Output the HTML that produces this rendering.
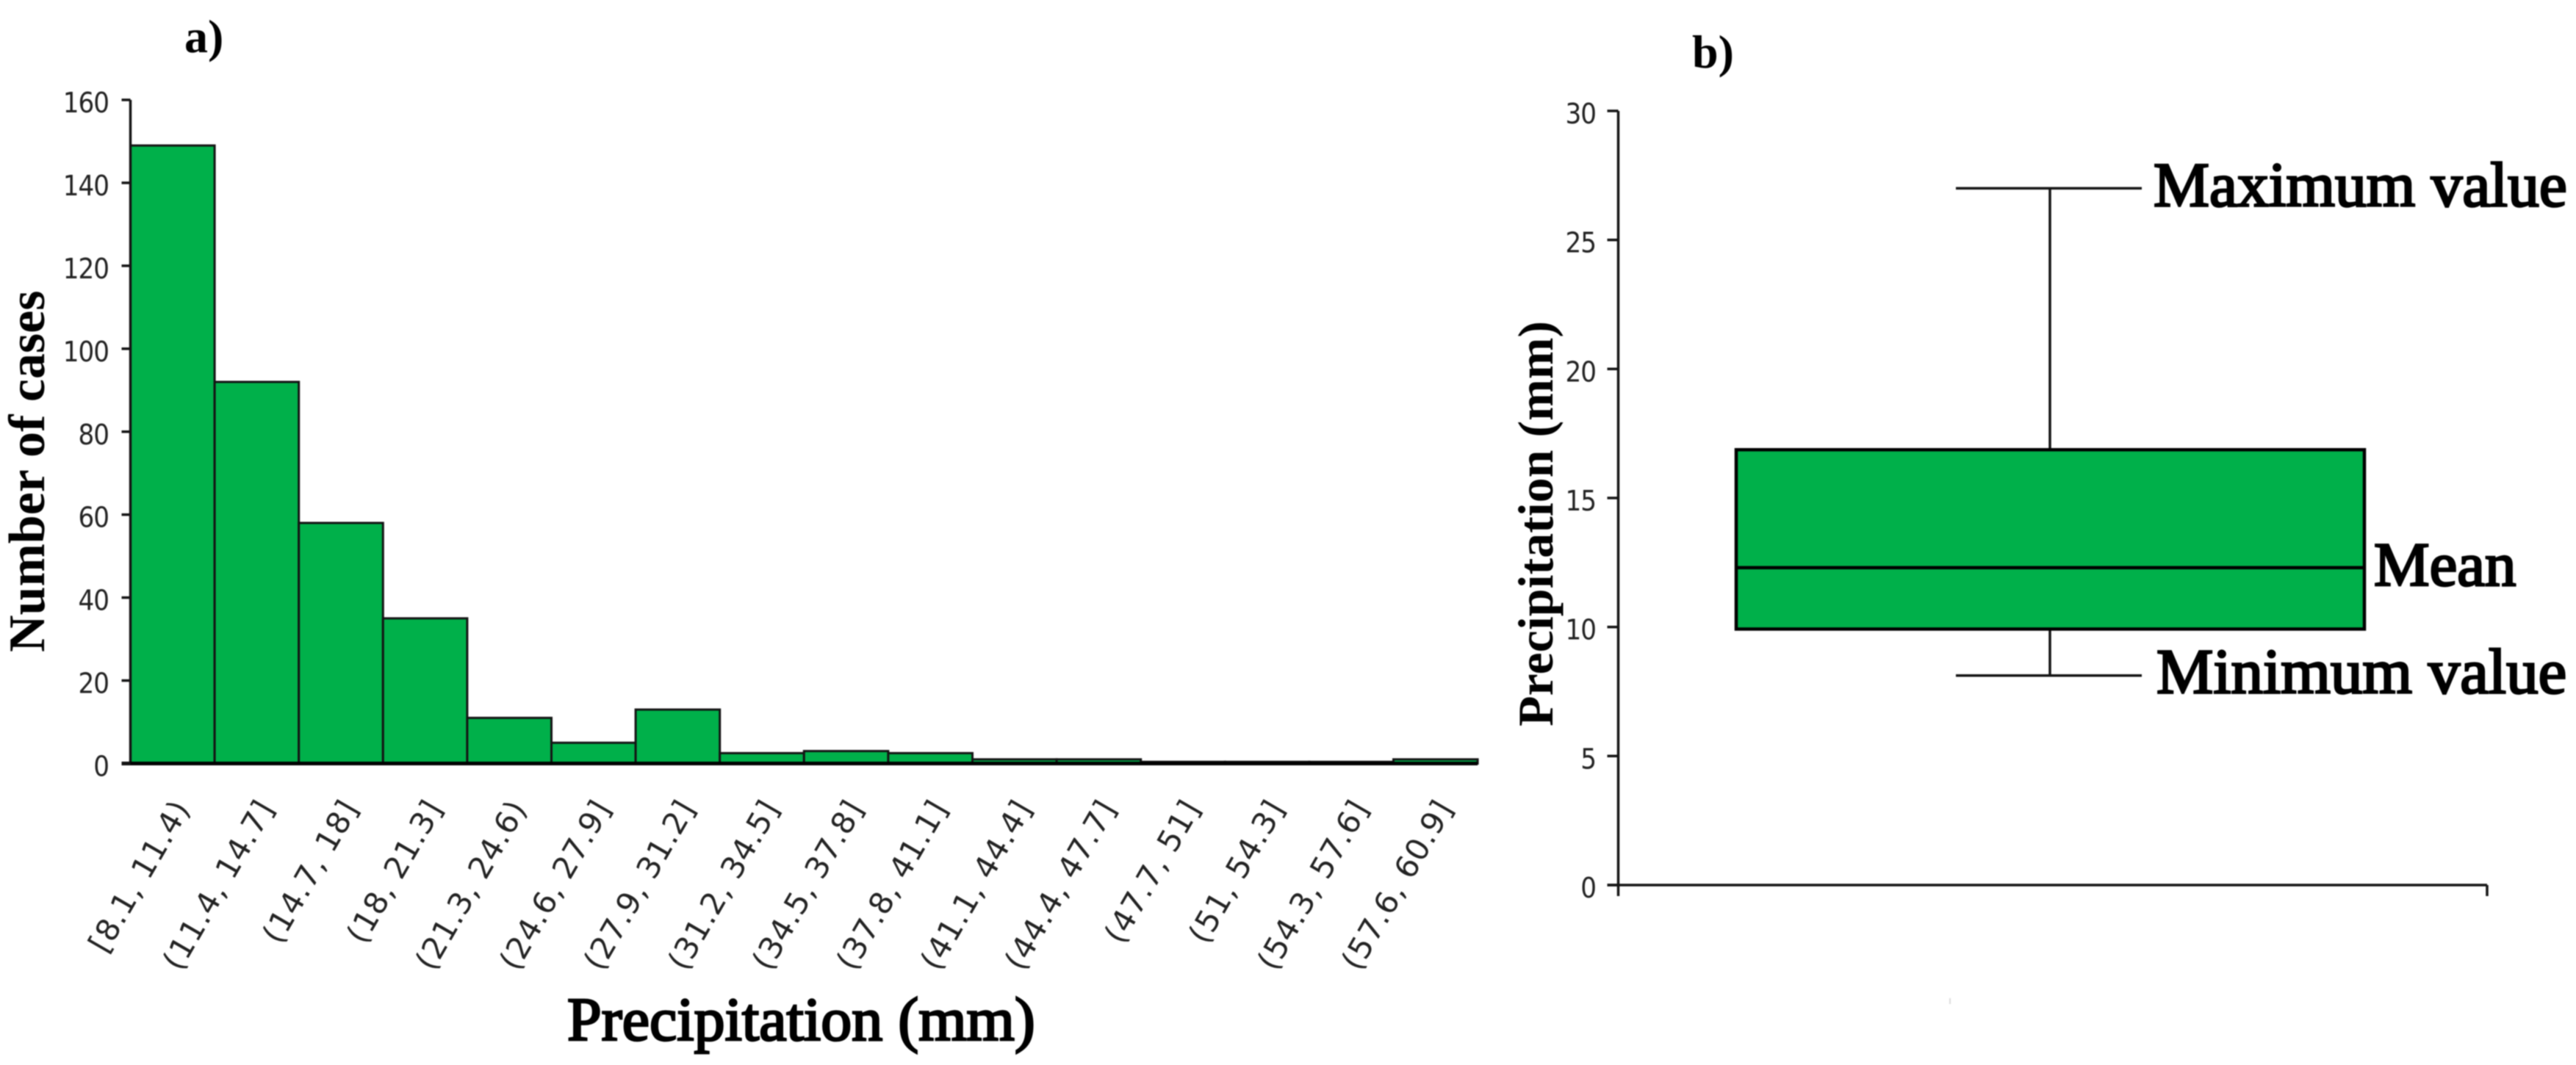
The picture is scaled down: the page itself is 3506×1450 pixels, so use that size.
<!DOCTYPE html>
<html lang="en">
<head>
<meta charset="utf-8">
<title>Precipitation histogram and box plot</title>
<style>
  html, body { margin: 0; padding: 0; background: #fff; }
  body { width: 3506px; height: 1450px; overflow: hidden; }
  svg { display: block; filter: blur(0.7px); }
  .serif { font-family: "Liberation Serif", serif; font-weight: bold; fill: #000; }
  .medium { font-family: "Liberation Serif", serif; font-weight: normal; fill: #000; stroke: #000; stroke-width: 2.8px; }
  .tick { font-family: "DejaVu Sans Condensed", "DejaVu Sans", sans-serif; font-size: 38px; letter-spacing: -1px; fill: #222; }
  .cat { font-family: "DejaVu Sans", sans-serif; font-size: 42px; letter-spacing: 1px; fill: #222; }
</style>
</head>
<body>
<svg id="chart" xmlns="http://www.w3.org/2000/svg" width="3506" height="1450" viewBox="0 0 3506 1450">
  <rect x="0" y="0" width="3506" height="1450" fill="#fff"/>
  <g id="hist"></g>
  <g id="box"></g>

  <text class="serif" x="251" y="71" font-size="64">a)</text>
  <text class="serif" x="2303" y="92" font-size="64">b)</text>
  <text class="serif" font-size="70" transform="translate(60 888) rotate(-90)">Number of cases</text>
  <text class="medium" x="772" y="1416" font-size="84">Precipitation (mm)</text>
  <text class="serif" font-size="68" transform="translate(2113 989) rotate(-90)">Precipitation (mm)</text>
  <rect x="2653" y="1359" width="2" height="8" fill="#ddd"/>
</svg>

<script>
// Histogram data
const histCategories = ["[8.1, 11.4)", "(11.4, 14.7]", "(14.7, 18]", "(18, 21.3]", "(21.3, 24.6)", "(24.6, 27.9]", "(27.9, 31.2]", "(31.2, 34.5]", "(34.5, 37.8]", "(37.8, 41.1]", "(41.1, 44.4]", "(44.4, 47.7]", "(47.7, 51]", "(51, 54.3]", "(54.3, 57.6]", "(57.6, 60.9]"];
const histCounts = [149, 92, 58, 35, 11, 5, 13, 2.5, 3, 2.5, 1, 1, 0.4, 0.4, 0.4, 1];
const histTicks = [0, 20, 40, 60, 80, 100, 120, 140, 160];

// Box plot data
const boxMin = [8.12];
const boxQ1 = [9.92];
const boxMean = [12.3];
const boxQ3 = [16.87];
const boxMax = [27];
const boxTicks = [0, 5, 10, 15, 20, 25, 30];
const boxAnnotations = ["Maximum value", "Mean", "Minimum value"];

const NS = "http://www.w3.org/2000/svg";
const GREEN = "#00B04A";
const INK = "#141414";

function make(parent, tag, attrs, text) {
  const el = document.createElementNS(NS, tag);
  for (const k in attrs) el.setAttribute(k, attrs[k]);
  if (text !== undefined) el.textContent = text;
  parent.appendChild(el);
  return el;
}

// Histogram axes
const histLeft = 177.5, histBinW = 114.6, histBase = 1039.5, histTop = 136, histMax = 160;
function histX(i) { return histLeft + i * histBinW; }
function histY(v) { return histBase - (v / histMax) * (histBase - histTop); }

const hist = document.getElementById("hist");

histCounts.forEach(function (v, i) {
  const bar = make(hist, "rect", {
    x: histX(i), y: histY(v), width: histBinW, height: histBase - histY(v),
    fill: GREEN, stroke: INK, "stroke-width": 3
  });
  
  
});

const histYAxis = make(hist, "line", { x1: histLeft, x2: histLeft, y1: histTop, y2: histBase, stroke: INK, "stroke-width": 3.5 });



const histXAxis = make(hist, "line", { x1: histLeft - 12, x2: histX(histCounts.length), y1: histBase, y2: histBase, stroke: "#000", "stroke-width": 5 });



histTicks.forEach(function (t) {
  const mark = make(hist, "line", { x1: histLeft - 12, x2: histLeft, y1: histY(t), y2: histY(t), stroke: INK, "stroke-width": 3.5 });
  
  
  const label = make(hist, "text", { class: "tick", x: 148, y: histY(t) + 17, "text-anchor": "end" }, String(t));
  
  
});

histCategories.forEach(function (c, i) {
  const cx = histX(i + 0.5) + 25;
  const label = make(hist, "text", { class: "cat", "text-anchor": "end", transform: "translate(" + cx + " 1100) rotate(-60)" }, c);
  
  
});

// Box plot axes
const boxAxisX = 2202.5, boxBase = 1205, boxTop = 151, boxRange = 30, boxAxisEnd = 3385;
const boxLeft = 2363, boxRight = 3218, whiskerX = 2790, capLeft = 2662, capRight = 2915;
function boxY(v) { return boxBase - (v / boxRange) * (boxBase - boxTop); }

const box = document.getElementById("box");

const boxYAxis = make(box, "line", { x1: boxAxisX, x2: boxAxisX, y1: boxTop, y2: boxBase + 15, stroke: INK, "stroke-width": 3.5 });



const boxXAxis = make(box, "line", { x1: boxAxisX - 15, x2: boxAxisEnd, y1: boxBase, y2: boxBase, stroke: INK, "stroke-width": 3.5 });



const boxXEndTick = make(box, "line", { x1: boxAxisEnd, x2: boxAxisEnd, y1: boxBase, y2: boxBase + 15, stroke: INK, "stroke-width": 3.5 });



boxTicks.forEach(function (t) {
  const mark = make(box, "line", { x1: boxAxisX - 15, x2: boxAxisX, y1: boxY(t), y2: boxY(t), stroke: INK, "stroke-width": 3.5 });
  
  
  const label = make(box, "text", { class: "tick", x: 2172, y: boxY(t) + 17, "text-anchor": "end" }, String(t));
  
  
});

const whisker = make(box, "line", { x1: whiskerX, x2: whiskerX, y1: boxY(boxMax[0]), y2: boxY(boxMin[0]), stroke: INK, "stroke-width": 3.5 });



const capTop = make(box, "line", { x1: capLeft, x2: capRight, y1: boxY(boxMax[0]), y2: boxY(boxMax[0]), stroke: INK, "stroke-width": 3.5 });



const capBottom = make(box, "line", { x1: capLeft, x2: capRight, y1: boxY(boxMin[0]), y2: boxY(boxMin[0]), stroke: INK, "stroke-width": 3.5 });



const iqr = make(box, "rect", { x: boxLeft, y: boxY(boxQ3[0]), width: boxRight - boxLeft, height: boxY(boxQ1[0]) - boxY(boxQ3[0]), fill: GREEN, stroke: "#000", "stroke-width": 4.5 });



const meanLine = make(box, "line", { x1: boxLeft, x2: boxRight, y1: boxY(boxMean[0]), y2: boxY(boxMean[0]), stroke: "#000", "stroke-width": 4.5 });



const maxLabel = make(box, "text", { class: "medium", x: 2931, y: boxY(boxMax[0]) + 24, "font-size": 85.5 }, boxAnnotations[0]);



const meanLabel = make(box, "text", { class: "medium", x: 3231, y: boxY(boxMean[0]) + 24, "font-size": 85 }, boxAnnotations[1]);



const minLabel = make(box, "text", { class: "medium", x: 2935, y: boxY(boxMin[0]) + 24, "font-size": 87 }, boxAnnotations[2]);


</script>
</body>
</html>
